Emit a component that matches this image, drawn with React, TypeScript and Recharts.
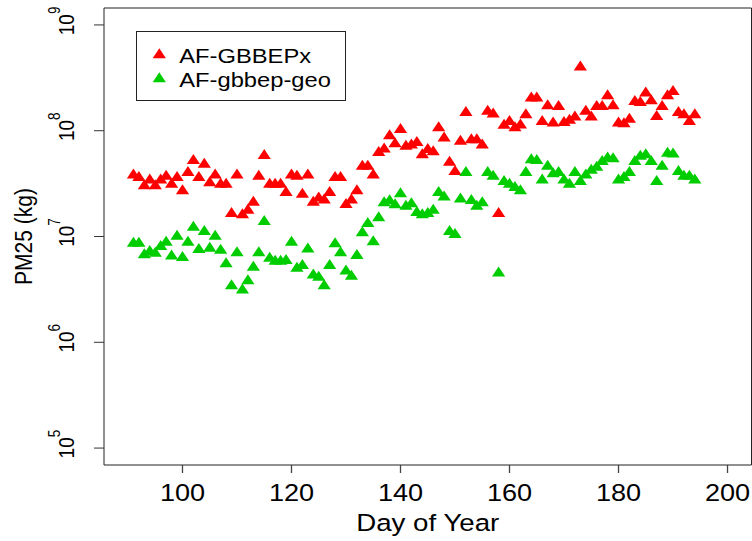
import { ScatterChart, Scatter, XAxis, YAxis, Legend, ReferenceArea } from 'recharts';

// Day of year, one reading per day for both inventories
const days = [
  91, 92, 93, 94, 95, 96, 97, 98, 99, 100,
  101, 102, 103, 104, 105, 106, 107, 108, 109, 110,
  111, 112, 113, 114, 115, 116, 117, 118, 119, 120,
  121, 122, 123, 124, 125, 126, 127, 128, 129, 130,
  131, 132, 133, 134, 135, 136, 137, 138, 139, 140,
  141, 142, 143, 144, 145, 146, 147, 148, 149, 150,
  151, 152, 153, 154, 155, 156, 157, 158, 159, 160,
  161, 162, 163, 164, 165, 166, 167, 168, 169, 170,
  171, 172, 173, 174, 175, 176, 177, 178, 179, 180,
  181, 182, 183, 184, 185, 186, 187, 188, 189, 190,
  191, 192, 193, 194,
];

// PM25 (kg), AF-GBBEPx
const gbbepx = [
  3.8e7, 3.6e7, 3.0e7, 3.4e7, 3.0e7, 3.4e7, 3.7e7, 3.1e7, 3.6e7, 2.7e7,
  4.0e7, 5.2e7, 3.6e7, 4.8e7, 3.2e7, 3.8e7, 3.1e7, 3.1e7, 1.64e7, 3.8e7,
  1.6e7, 1.76e7, 2.1e7, 3.7e7, 5.8e7, 3.1e7, 3.1e7, 3.1e7, 2.6e7, 3.8e7,
  3.7e7, 2.5e7, 3.8e7, 2.1e7, 2.3e7, 2.2e7, 2.6e7, 3.6e7, 3.6e7, 2.0e7,
  2.2e7, 2.7e7, 4.6e7, 4.6e7, 3.8e7, 6.2e7, 6.7e7, 8.9e7, 7.5e7, 1.02e8,
  7.1e7, 7.3e7, 7.7e7, 5.9e7, 6.6e7, 6.3e7, 1.06e8, 8.5e7, 5.0e7, 4.1e7,
  7.9e7, 1.48e8, 8.2e7, 8.2e7, 7.3e7, 1.52e8, 1.43e8, 1.64e7, 1.12e8, 1.22e8,
  1.06e8, 1.13e8, 1.41e8, 2.03e8, 2.03e8, 1.22e8, 1.71e8, 1.18e8, 1.69e8, 1.19e8,
  1.25e8, 1.34e8, 3.98e8, 1.52e8, 1.34e8, 1.69e8, 1.69e8, 2.13e8, 1.71e8, 1.18e8,
  1.16e8, 1.28e8, 1.88e8, 1.84e8, 2.26e8, 1.91e8, 1.36e8, 1.69e8, 2.13e8, 2.34e8,
  1.48e8, 1.41e8, 1.22e8, 1.41e8,
];

// PM25 (kg), AF-gbbep-geo
const gbbepGeo = [
  8.6e6, 8.6e6, 6.7e6, 7.2e6, 6.9e6, 8.0e6, 8.8e6, 6.5e6, 1.0e7, 6.3e6,
  8.8e6, 1.22e7, 7.5e6, 1.11e7, 7.7e6, 1.0e7, 7.4e6, 5.5e6, 3.4e6, 7.0e6,
  3.1e6, 3.8e6, 5.1e6, 7.0e6, 1.38e7, 6.2e6, 5.8e6, 5.8e6, 5.9e6, 8.8e6,
  5.0e6, 5.3e6, 7.6e6, 4.3e6, 4.1e6, 3.4e6, 5.3e6, 8.5e6, 7.0e6, 4.7e6,
  4.2e6, 6.6e6, 1.08e7, 1.32e7, 8.9e6, 1.5e7, 2.07e7, 2.17e7, 1.99e7, 2.53e7,
  1.92e7, 2.03e7, 1.68e7, 1.6e7, 1.64e7, 1.76e7, 2.6e7, 2.35e7, 1.11e7, 1.04e7,
  2.25e7, 4.0e7, 2.18e7, 1.92e7, 2.07e7, 4.0e7, 3.7e7, 4.5e6, 3.3e7, 3.1e7,
  2.9e7, 2.7e7, 4.0e7, 5.3e7, 5.2e7, 3.4e7, 4.6e7, 3.9e7, 4.0e7, 3.4e7,
  3.1e7, 4.0e7, 3.3e7, 3.8e7, 4.2e7, 4.5e7, 5.1e7, 5.5e7, 5.4e7, 3.4e7,
  3.6e7, 4.0e7, 5.1e7, 5.7e7, 5.9e7, 5.1e7, 3.3e7, 4.6e7, 6.1e7, 6.0e7,
  4.1e7, 3.7e7, 3.7e7, 3.4e7,
];

const xTicks = [100, 120, 140, 160, 180, 200];
const yTicks = [1e5, 1e6, 1e7, 1e8, 1e9];

// R-style axis ranges (4% padding), y on log scale
const X_DOMAIN = [85.6, 204.4];
const Y_DOMAIN = [Math.pow(10, 4.84), Math.pow(10, 9.16)];

const FONT = '"Liberation Sans", Arial, Helvetica, sans-serif';
const SX = 1.13; // reference picture is a bit stretched horizontally

const redData = days.map((d, i) => ({ x: d, y: gbbepx[i] }));
const greenData = days.map((d, i) => ({ x: d, y: gbbepGeo[i] }));

function Tri(props: any) {
  const { cx, cy, fill } = props;
  if (cx == null || cy == null) return null;
  return (
    <polygon
      points={`${cx},${cy - 6.7} ${cx + 6.6},${cy + 3.3} ${cx - 6.6},${cy + 3.3}`}
      fill={fill}
    />
  );
}

function XTick({ x, y, payload }: any) {
  return (
    <g transform={`translate(${x},${y + 27.5}) scale(${SX},1)`}>
      <text textAnchor="middle" fontSize={24} fontFamily={FONT} fill="#000">
        {payload.value}
      </text>
    </g>
  );
}

function YTick({ x, y, payload }: any) {
  const exp = Math.round(Math.log10(payload.value));
  return (
    <g transform={`translate(${x - 20},${y - 4}) scale(1.2,1) rotate(-90)`}>
      <text textAnchor="middle" fontSize={19} fontFamily={FONT} fill="#000">
        10<tspan dy={-12} fontSize={13.5}>{exp}</tspan>
      </text>
    </g>
  );
}

function XTitle(props: any) {
  const vb = props.viewBox;
  return (
    <g transform={`translate(${vb.x + vb.width / 2},${vb.y + 66}) scale(${SX},1)`}>
      <text textAnchor="middle" fontSize={24.5} fontFamily={FONT} fill="#000">
        Day of Year
      </text>
    </g>
  );
}

function YTitle(props: any) {
  const vb = props.viewBox;
  return (
    <g transform={`translate(32,${vb.y + vb.height / 2}) scale(${SX},1) rotate(-90)`}>
      <text textAnchor="middle" fontSize={21} fontFamily={FONT} fill="#000">
        PM25 (kg)
      </text>
    </g>
  );
}

function LegendBox({ payload }: any) {
  return (
    <svg width={210} height={70} style={{ display: 'block' }}>
      <rect x={0.5} y={0.5} width={209} height={69} fill="#fff" stroke="#222" />
      {(payload || []).map((p: any, i: number) => (
        <g key={p.value}>
          <Tri cx={23.3} cy={24 + i * 24} fill={p.color} />
          <g transform={`translate(43.3,${32.3 + i * 24}) scale(${SX},1)`}>
            <text fontSize={21} fontFamily={FONT} fill="#000">
              {p.value}
            </text>
          </g>
        </g>
      ))}
    </svg>
  );
}

export default function App() {
  return (
    <div style={{ position: 'absolute', left: 0, top: 0, width: 752, height: 541, background: '#fff' }}>
      <ScatterChart width={752} height={541} margin={{ top: 8, right: 0.5, bottom: 0, left: 0 }}>
        <XAxis
          type="number"
          dataKey="x"
          domain={X_DOMAIN}
          ticks={xTicks}
          allowDataOverflow
          height={76}
          tickSize={8}
          tickMargin={0}
          axisLine={false}
          tickLine={{ stroke: '#444', strokeWidth: 1.3 }}
          tick={<XTick />}
          label={XTitle}
        />
        <YAxis
          type="number"
          dataKey="y"
          scale="log"
          domain={Y_DOMAIN}
          ticks={yTicks}
          allowDataOverflow
          width={104}
          tickSize={10}
          tickMargin={0}
          axisLine={false}
          tickLine={{ stroke: '#333' }}
          tick={<YTick />}
          label={YTitle}
        />
        <ReferenceArea
          x1={X_DOMAIN[0]}
          x2={X_DOMAIN[1]}
          y1={Y_DOMAIN[0]}
          y2={Y_DOMAIN[1]}
          fill="none"
          stroke="#222"
          strokeWidth={1}
          ifOverflow="visible"
        />
        <Legend
          layout="horizontal"
          align="center"
          verticalAlign="middle"
          wrapperStyle={{ left: 136, top: 31, width: 210, height: 70 }}
          content={<LegendBox />}
        />
        <Scatter name="AF-GBBEPx" data={redData} fill="#FF0000" shape={Tri} isAnimationActive={false} />
        <Scatter name="AF-gbbep-geo" data={greenData} fill="#00CD00" shape={Tri} isAnimationActive={false} />
      </ScatterChart>
    </div>
  );
}
